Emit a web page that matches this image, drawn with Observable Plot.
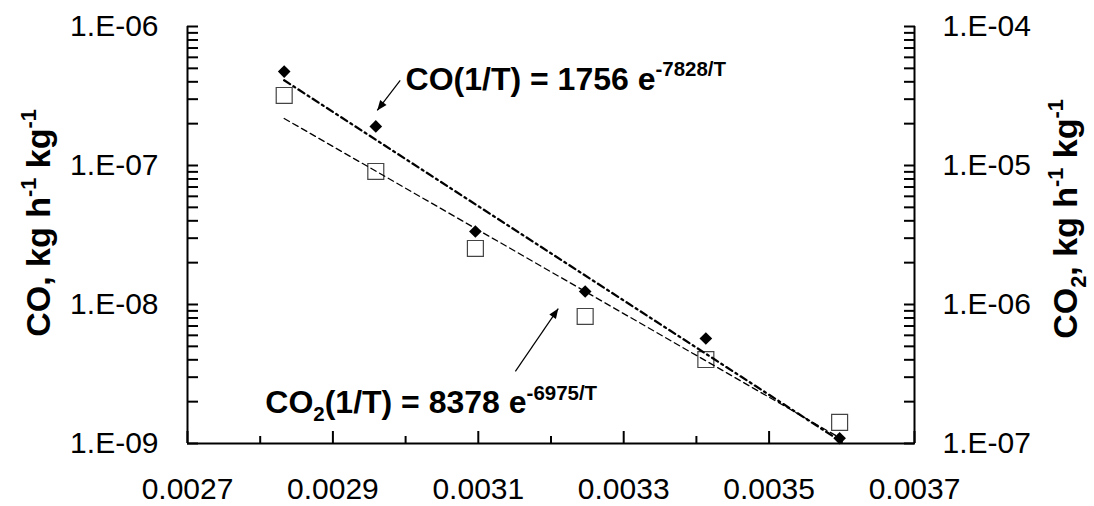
<!DOCTYPE html>
<html>
<head>
<meta charset="utf-8">
<script src="https://cdn.jsdelivr.net/npm/d3@7"></script>
<script src="https://cdn.jsdelivr.net/npm/@observablehq/plot@0.6"></script>
<style>
  html, body { margin: 0; padding: 0; background: #fff; }
</style>
</head>
<body>
<div id="chart"></div>
<script>
// ---- data ----
const invT = [0.002833, 0.002959, 0.003096, 0.003247, 0.003413, 0.003597];      // 1/T
const coRate = [4.74e-7, 1.91e-7, 3.35e-8, 1.24e-8, 5.69e-9, 1.09e-9];           // left axis
const co2Rate = [3.19e-5, 9.06e-6, 2.53e-6, 8.2e-7, 4.02e-7, 1.42e-7];           // right axis
const fitX = [0.002833, 0.003597];
const coFitY = [4.1e-7, 1.05e-9];
const co2FitY = [2.18e-5, 1.1e-7];
const rightFactor = 100; // right axis value = left axis value x 100

const xDomain = [0.0027, 0.0037];
const yDomain = [1e-9, 1e-6];
const xTicks = [0.0027, 0.0029, 0.0031, 0.0033, 0.0035, 0.0037];
const xTickLabels = ["0.0027", "0.0029", "0.0031", "0.0033", "0.0035", "0.0037"];
const xMinorTicks = [0.0028, 0.0030, 0.0032, 0.0034, 0.0036];
const yTicks = [1e-9, 1e-8, 1e-7, 1e-6];
const leftTickLabels = ["1.E-09", "1.E-08", "1.E-07", "1.E-06"];
const rightTickLabels = ["1.E-07", "1.E-06", "1.E-05", "1.E-04"];

const leftTitleParts = [["CO, kg h", "n"], ["-1", "sup"], [" kg", "n"], ["-1", "sup"]];
const rightTitleParts = [["CO", "n"], ["2", "sub"], [", kg h", "n"], ["-1", "sup"], [" kg", "n"], ["-1", "sup"]];
const eqParts = [
  [["CO(1/T) = 1756 e", "n"], ["-7828/T", "sup"]],
  [["CO", "n"], ["2", "sub"], ["(1/T) = 8378 e", "n"], ["-6975/T", "sup"]]
];
const eqX = [0.0030, 0.002807];
const eqY = [3.52e-7, 1.644e-9];
const arrowX1 = [0.0029926, 0.003151];
const arrowY1 = [4.09e-7, 3.3e-9];
const arrowX2 = [0.002961, 0.00321];
const arrowY2 = [2.49e-7, 9.35e-9];

// ---- tables ----
const points = invT.map((x, i) => ({x, co: coRate[i], co2: co2Rate[i] / rightFactor}));
const coFit = fitX.map((x, i) => ({x, y: coFitY[i]}));
const co2Fit = fitX.map((x, i) => ({x, y: co2FitY[i] / rightFactor}));
const yAllTicks = [];
for (const d of yTicks.slice(0, -1)) for (let k = 1; k <= 9; k++) yAllTicks.push(d * k);
yAllTicks.push(yTicks[yTicks.length - 1]);
const plain = parts => parts.map(p => p[0]).join("");
const eqs = eqParts.map((p, i) => ({text: plain(p), x: eqX[i], y: eqY[i]}));
const arrows = arrowX1.map((x, i) => ({x1: x, y1: arrowY1[i], x2: arrowX2[i], y2: arrowY2[i]}));

const FONT = "'Liberation Sans', Arial, Helvetica, sans-serif";

const plot = Plot.plot({
  width: 1094,
  height: 506,
  marginLeft: 187,
  marginRight: 180,
  marginTop: 26,
  marginBottom: 63,
  style: {fontFamily: FONT, fontSize: "30px", background: "#fff", color: "#000"},
  x: {domain: xDomain},
  y: {type: "log", domain: yDomain},
  marks: [
    // tick labels
    Plot.axisX({ticks: xTicks, tickSize: 0, tickPadding: 34, label: null,
      tickFormat: d => xTickLabels[xTicks.indexOf(d)]}),
    Plot.axisX({ticks: xTicks, tickSize: 12, dy: -12, strokeWidth: 2, label: null, tickFormat: () => ""}),
    Plot.axisX({ticks: xMinorTicks, tickSize: 7, dy: -7, strokeWidth: 2, label: null, tickFormat: () => ""}),
    Plot.axisY({anchor: "left", ticks: yTicks, tickSize: 0, tickPadding: 29, label: null,
      tickFormat: d => leftTickLabels[yTicks.indexOf(d)]}),
    Plot.axisY({anchor: "left", ticks: yAllTicks, tickSize: 11, dx: 11, strokeWidth: 2, label: null, tickFormat: () => ""}),
    Plot.axisY({anchor: "right", ticks: yTicks, tickSize: 0, tickPadding: 28, label: null,
      tickFormat: d => rightTickLabels[yTicks.indexOf(d)]}),
    Plot.axisY({anchor: "right", ticks: yAllTicks, tickSize: 11, dx: -11, strokeWidth: 2, label: null, tickFormat: () => ""}),
    // frame lines (left, right, bottom)
    Plot.ruleX(xDomain, {stroke: "#000", strokeWidth: 2}),
    Plot.ruleY([yDomain[0]], {stroke: "#000", strokeWidth: 2}),
    // CO2 squares
    Plot.dot(points, {x: "x", y: "co2", symbol: "square", r: 9, fill: "white", stroke: "#444", strokeWidth: 1.2}),
    // trend lines
    Plot.line(co2Fit, {x: "x", y: "y", stroke: "#000", strokeWidth: 1.3, strokeDasharray: "6,4"}),
    Plot.line(coFit, {x: "x", y: "y", stroke: "#000", strokeWidth: 2.3, strokeDasharray: "7,4,2,4"}),
    // CO diamonds
    Plot.dot(points, {x: "x", y: "co", symbol: "diamond2", r: 5.7, fill: "#000", stroke: "none"}),
    // arrows
    Plot.link(arrows, {x1: "x1", y1: "y1", x2: "x2", y2: "y2", stroke: "#000", strokeWidth: 1.2, markerEnd: "arrow"}),
    // equations
    Plot.text(eqs, {x: "x", y: "y", text: "text", textAnchor: "start", lineAnchor: "bottom",
      fontWeight: "bold", fontSize: 32}),
    // axis titles
    Plot.text([plain(leftTitleParts)], {text: d => d, frameAnchor: "left", textAnchor: "middle", lineAnchor: "middle",
      rotate: -90, dx: -148, dy: -12, fontWeight: "bold", fontSize: 34}),
    Plot.text([plain(rightTitleParts)], {text: d => d, frameAnchor: "right", textAnchor: "middle", lineAnchor: "middle",
      rotate: -90, dx: 152, dy: -16, fontWeight: "bold", fontSize: 34})
  ]
});

// ---- rich text (superscripts / subscripts) ----
function rich(node, parts, base) {
  const sel = d3.select(node);
  sel.text(null);
  let shift = 0;
  for (const [s, kind] of parts) {
    const target = kind === "sup" ? -0.42 * base : kind === "sub" ? 0.24 * base : 0;
    const t = sel.append("tspan").text(s).attr("dy", target - shift);
    if (kind !== "n") t.attr("font-size", base * 0.64);
    shift = target;
  }
}
const svg = d3.select(plot);
svg.selectAll("text").each(function () {
  const s = this.textContent;
  if (s === plain(eqParts[0])) rich(this, eqParts[0], 32);
  else if (s === plain(eqParts[1])) rich(this, eqParts[1], 32);
  else if (s === plain(leftTitleParts)) rich(this, leftTitleParts, 34);
  else if (s === plain(rightTitleParts)) rich(this, rightTitleParts, 34);
});
// filled arrowheads
svg.selectAll("marker").each(function () {
  const m = d3.select(this);
  m.attr("viewBox", "-11 -5 12 10").attr("markerWidth", 12 / 1.2).attr("markerHeight", 10 / 1.2)
    .attr("fill", "#000").attr("stroke", "none");
  m.selectAll("path").attr("d", "M-10,-4L0,0L-10,4Z");
});

document.getElementById("chart").appendChild(plot);
</script>
</body>
</html>
